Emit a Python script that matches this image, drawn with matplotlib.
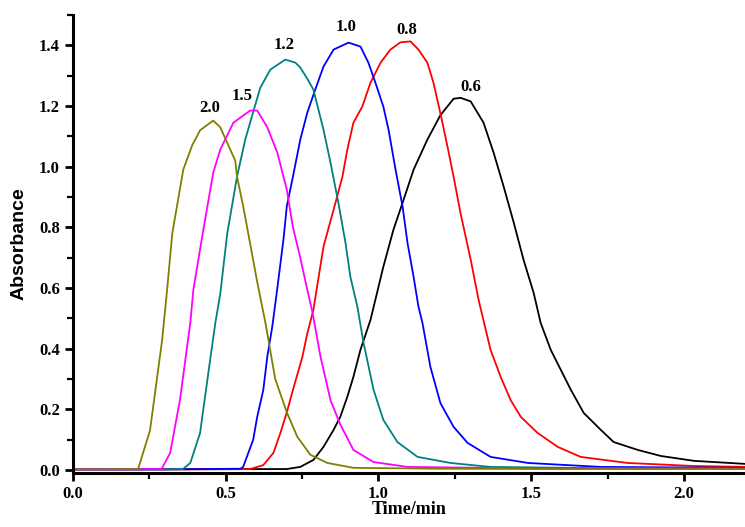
import matplotlib.pyplot as plt
from matplotlib.ticker import MultipleLocator

# elution profiles at different flow rates (mL/min)
t_20 = [0.0, 0.10, 0.213, 0.252, 0.292, 0.308, 0.325, 0.361, 0.39, 0.416, 0.459,
        0.482, 0.531, 0.537, 0.557, 0.57, 0.603, 0.63, 0.662, 0.70, 0.734, 0.777,
        0.833, 0.918, 1.2, 1.6, 2.2]
a_20 = [0.002, 0.002, 0.003, 0.13, 0.43, 0.594, 0.78, 0.99, 1.07, 1.12, 1.152,
        1.13, 1.02, 0.967, 0.87, 0.80, 0.62, 0.485, 0.30, 0.19, 0.11, 0.05,
        0.023, 0.007, 0.004, 0.003, 0.003]

t_15 = [0.0, 0.15, 0.29, 0.318, 0.35, 0.384, 0.394, 0.423, 0.459, 0.482, 0.525,
        0.58, 0.603, 0.636, 0.669, 0.70, 0.72, 0.744, 0.767, 0.784, 0.81, 0.843,
        0.875, 0.918, 0.984, 1.095, 1.5, 2.2]
a_15 = [0.002, 0.002, 0.003, 0.056, 0.23, 0.485, 0.594, 0.77, 0.98, 1.056, 1.145,
        1.185, 1.185, 1.13, 1.046, 0.924, 0.80, 0.70, 0.594, 0.52, 0.375, 0.23,
        0.150, 0.066, 0.026, 0.01, 0.005, 0.004]

t_12 = [0.0, 0.2, 0.36, 0.384, 0.416, 0.443, 0.466, 0.482, 0.505, 0.537, 0.564,
        0.587, 0.613, 0.646, 0.695, 0.728, 0.744, 0.767, 0.787, 0.82,
        0.843, 0.869, 0.892, 0.908, 0.931, 0.951, 0.984, 1.016, 1.062, 1.128,
        1.236, 1.367, 1.7, 2.2]
a_12 = [0.002, 0.002, 0.003, 0.023, 0.122, 0.32, 0.485, 0.58, 0.78, 0.967, 1.09,
        1.17, 1.26, 1.32, 1.353, 1.343, 1.327, 1.29, 1.254, 1.122,
        1.013, 0.88, 0.749, 0.637, 0.538, 0.42, 0.264, 0.165, 0.092, 0.043,
        0.023, 0.01, 0.006, 0.005]

t_10 = [0.0, 0.3, 0.548, 0.557, 0.59, 0.603, 0.623, 0.636, 0.652, 0.669, 0.689,
        0.70, 0.72, 0.744, 0.767, 0.793, 0.82, 0.853, 0.902, 0.941, 0.967,
        0.99, 1.016, 1.033, 1.056, 1.079, 1.095, 1.115, 1.131, 1.144, 1.17,
        1.203, 1.246, 1.292, 1.367, 1.49, 1.728, 2.2]
a_10 = [0.002, 0.002, 0.004, 0.01, 0.1, 0.175, 0.264, 0.373, 0.47, 0.60, 0.76,
        0.87, 0.967, 1.089, 1.178, 1.254, 1.33, 1.386, 1.409, 1.396, 1.343,
        1.277, 1.198, 1.122, 0.99, 0.868, 0.749, 0.637, 0.538, 0.485, 0.34,
        0.22, 0.142, 0.089, 0.043, 0.023, 0.01, 0.007]

t_08 = [0.0, 0.3, 0.58, 0.623, 0.656, 0.679, 0.70, 0.72, 0.751, 0.767, 0.787,
        0.82, 0.859, 0.882, 0.898, 0.918, 0.947, 0.974, 1.007, 1.039, 1.072,
        1.105, 1.131, 1.16, 1.18, 1.203, 1.226, 1.246, 1.269, 1.302, 1.328,
        1.367, 1.40, 1.433, 1.466, 1.521, 1.587, 1.662, 1.816, 2.033, 2.2]
a_08 = [0.002, 0.002, 0.003, 0.016, 0.056, 0.122, 0.19, 0.264, 0.373, 0.45, 0.528,
        0.736, 0.88, 0.967, 1.056, 1.145, 1.198, 1.277, 1.343, 1.386, 1.41,
        1.413, 1.386, 1.343, 1.277, 1.175, 1.066, 0.967, 0.845, 0.693, 0.56,
        0.396, 0.307, 0.23, 0.175, 0.122, 0.076, 0.043, 0.023, 0.013, 0.01]

t_06 = [0.0, 0.3, 0.70, 0.744, 0.787, 0.82, 0.853, 0.875, 0.898, 0.918, 0.941,
        0.974, 1.016, 1.049, 1.082, 1.115, 1.16, 1.203, 1.246, 1.269, 1.302,
        1.344, 1.377, 1.41, 1.443, 1.475, 1.508, 1.531, 1.564, 1.597, 1.63,
        1.672, 1.728, 1.77, 1.849, 1.925, 2.033, 2.2]
a_06 = [0.002, 0.002, 0.003, 0.01, 0.033, 0.076, 0.132, 0.175, 0.241, 0.307, 0.396,
        0.495, 0.67, 0.792, 0.89, 0.99, 1.089, 1.17, 1.224, 1.227, 1.215,
        1.145, 1.046, 0.934, 0.815, 0.693, 0.584, 0.485, 0.396, 0.33, 0.264,
        0.188, 0.132, 0.092, 0.066, 0.046, 0.03, 0.02]

series = [
    (t_06, a_06, 'black', '0.6', (1.302, 1.264)),
    (t_08, a_08, '#ff0000', '0.8', (1.092, 1.449)),
    (t_10, a_10, '#0000ff', '1.0', (0.895, 1.462)),
    (t_12, a_12, '#008080', '1.2', (0.692, 1.400)),
    (t_15, a_15, '#ff00ff', '1.5', (0.554, 1.234)),
    (t_20, a_20, '#808000', '2.0', (0.449, 1.195)),
]

serif_bold = dict(family='Liberation Serif', weight='bold')

fig = plt.figure(figsize=(7.45, 5.27), dpi=100)
ax = fig.add_axes([0.098, 0.1025, 0.902, 0.869])

for t, a, c, lab, pos in series:
    ax.plot(t, a, color=c, lw=1.3)
    ax.text(pos[0], pos[1], lab, ha='center', va='center', fontsize=12, **serif_bold)

ax.set_xlim(0, 2.2)
ax.set_ylim(-0.01, 1.5)
ax.xaxis.set_major_locator(MultipleLocator(0.5))
ax.xaxis.set_minor_locator(MultipleLocator(0.25))
ax.yaxis.set_major_locator(MultipleLocator(0.2))
ax.yaxis.set_minor_locator(MultipleLocator(0.1))
ax.xaxis.set_major_formatter(lambda v, p: f'{v:.1f}')
ax.yaxis.set_major_formatter(lambda v, p: f'{v:.1f}')

for s in ['top', 'right']:
    ax.spines[s].set_visible(False)
for s in ['left', 'bottom']:
    ax.spines[s].set_linewidth(2.2)

ax.tick_params(which='major', direction='out', length=6, width=2)
ax.tick_params(which='minor', direction='out', length=4, width=1.6)
for lbl in ax.get_xticklabels() + ax.get_yticklabels():
    lbl.set_fontfamily('Liberation Serif')
    lbl.set_fontweight('bold')
    lbl.set_fontsize(12)

ax.set_xlabel('Time/min', fontsize=13, labelpad=-1, **serif_bold)
ax.set_ylabel('Absorbance', fontsize=14, weight='bold', family='Liberation Sans', labelpad=8)

fig.savefig('out.png', dpi=100)
